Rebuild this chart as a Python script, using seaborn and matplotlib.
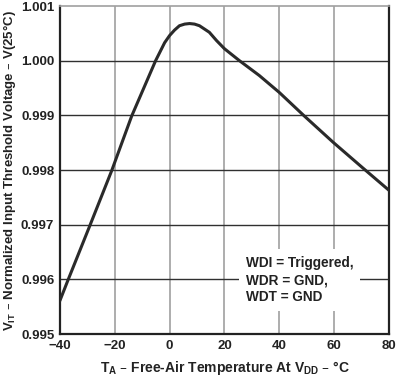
import matplotlib
matplotlib.use("Agg")
import matplotlib.pyplot as plt
import seaborn as sns

# curve
temp = [-40, -37.1, -29.1, -21.1, -13.8, -5.1, -1.8, 0, 1.8, 3.6, 5.5, 7.3, 9.1, 10.9, 12.7,
        14.5, 17.1, 20, 25.5, 32.7, 40, 49.1, 59.6, 70.2, 80]
vnorm = [0.99561, 0.99598, 0.99698, 0.99799, 0.99899, 1.00000, 1.00033, 1.00046, 1.00056, 1.00064,
         1.00067, 1.00068, 1.00067, 1.00064, 1.00058, 1.00052, 1.00037, 1.00022, 1.00000, 0.99973,
         0.99942, 0.99899, 0.99851, 0.99805, 0.99763]
xticks = [-40, -20, 0, 20, 40, 60, 80]
yticks = [0.995, 0.996, 0.997, 0.998, 0.999, 1.000, 1.001]

sns.set_style("white")
plt.rcParams['font.family'] = ['Liberation Sans', 'DejaVu Sans']
plt.rcParams['font.weight'] = 'bold'
plt.rcParams['mathtext.default'] = 'regular'

fig = plt.figure(figsize=(3.99, 3.78), dpi=100)
ax = fig.add_axes([0.150, 0.116, 0.825, 0.868])

for x in xticks[1:-1]:
    ax.axvline(x, color='#a0a0a0', lw=1.2, zorder=1)
for y in yticks[1:-1]:
    ax.axhline(y, color='#303030', lw=1.0, zorder=1)

sns.lineplot(x=temp, y=vnorm, ax=ax, color='#2a2a2a', lw=2.2, zorder=3)

ax.set_xlim(-40, 80)
ax.set_ylim(0.995, 1.001)
ax.set_xticks(xticks)
ax.set_yticks(yticks)
ax.set_xticklabels([str(t) if t >= 0 else '\u2212' + str(-t) for t in xticks], fontsize=9.5, fontweight='bold')
ax.set_yticklabels(['%.3f' % t for t in yticks], fontsize=9.5, fontweight='bold')
ax.tick_params(length=0, pad=4, colors='#222222')

for s in ['left', 'bottom', 'right']:
    ax.spines[s].set_color('#222222')
    ax.spines[s].set_linewidth(1.6)
ax.spines['top'].set_color('#a0a0a0')
ax.spines['top'].set_linewidth(1.2)

ax.set_xlabel('T$_{A}$ \u2013 Free-Air Temperature At V$_{DD}$ \u2013 \u00b0C',
              fontsize=10, fontweight='bold', labelpad=5, color='#222222')
ax.set_ylabel('V$_{IT}$ \u2013 Normalized Input Threshold Voltage \u2013 V(25\u00b0C)',
              fontsize=9.5, fontweight='bold', labelpad=2, color='#222222')

ax.text(0.565, 0.165, 'WDI = Triggered,\nWDR = GND,\nWDT = GND', transform=ax.transAxes,
        fontsize=9.8, fontweight='bold', color='#222222', va='center', ha='left', linespacing=1.25,
        bbox=dict(facecolor='white', edgecolor='none', pad=5), zorder=4)

fig.savefig('out.png', dpi=100)
